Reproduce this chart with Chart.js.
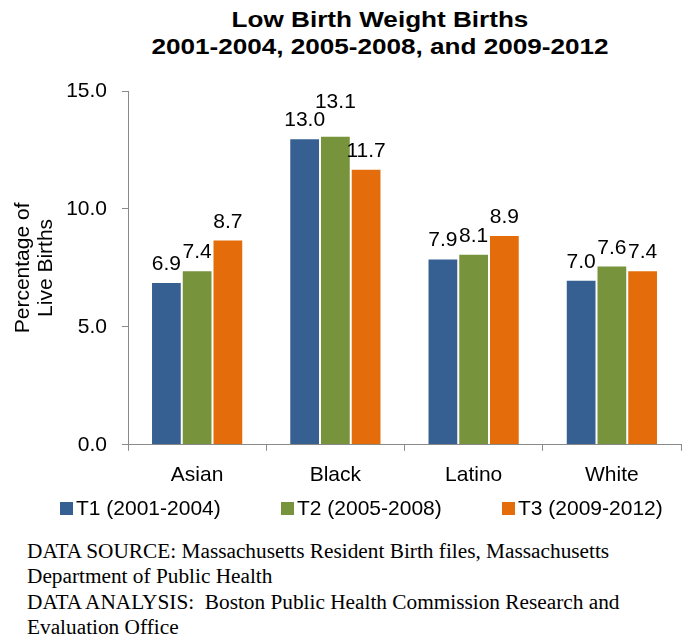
<!DOCTYPE html>
<html>
<head>
<meta charset="utf-8">
<script src="https://cdn.jsdelivr.net/npm/chart.js@4"></script>
<style>
  html, body { margin: 0; padding: 0; background: #fff; }
  body { width: 686px; height: 640px; position: relative; overflow: hidden; font-family: "Liberation Sans", Arial, sans-serif; }
  #title { position: absolute; left: 380px; top: 6px; width: 0; white-space: nowrap; }
  #title div { font-weight: bold; font-size: 22.5px; line-height: 27px; color: #000; transform: translateX(-50%) scaleX(1.16); transform-origin: center; width: max-content; }
  #wrap { position: absolute; left: 0; top: 0; width: 686px; height: 500px; }
  #legend { position: absolute; left: 60px; top: 496px; height: 24px; display: flex; }
  .item { width: 221px; display: flex; align-items: center; font-size: 21px; color: #000; line-height: 24px; }
  .sw { width: 13px; height: 13px; margin-right: 3px; flex: none; }
  #note { position: absolute; left: 27px; top: 539px; font-family: "Liberation Serif", "Times New Roman", serif; font-size: 21.3px; line-height: 25.3px; color: #000; white-space: nowrap; }
</style>
</head>
<body>
<div id="title"><div>Low Birth Weight Births</div><div>2001-2004, 2005-2008, and 2009-2012</div></div>
<div id="wrap"><canvas id="c"></canvas></div>
<div id="legend"></div>
<div id="note">DATA SOURCE: Massachusetts Resident Birth files, Massachusetts<br>Department of Public Health<br>DATA ANALYSIS:&nbsp; Boston Public Health Commission Research and<br>Evaluation Office</div>
<script>
const categories = ['Asian', 'Black', 'Latino', 'White'];
const seriesNames = ['T1 (2001-2004)', 'T2 (2005-2008)', 'T3 (2009-2012)'];
const t1Values = [6.9, 13.0, 7.9, 7.0];
const t2Values = [7.4, 13.1, 8.1, 7.6];
const t3Values = [8.7, 11.7, 8.9, 7.4];
const seriesColors = ['#376092', '#77933C', '#E46C0A'];
const yTicks = [0, 5, 10, 15];

const seriesValues = [t1Values, t2Values, t3Values];

// HTML legend from the series arrays
const legend = document.getElementById('legend');
seriesNames.forEach((name, i) => {
  const it = document.createElement('div');
  it.className = 'item';
  const sw = document.createElement('span');
  sw.className = 'sw';
  sw.style.background = seriesColors[i];
  const tx = document.createElement('span');
  tx.textContent = name;
  it.appendChild(sw); it.appendChild(tx);
  legend.appendChild(it);
});

const FONT = "'Liberation Sans', Arial, sans-serif";
const LABEL_SIZE = 21;

const valueLabels = {
  id: 'valueLabels',
  afterDatasetsDraw(chart) {
    const ctx = chart.ctx;
    ctx.save();
    ctx.font = LABEL_SIZE + 'px ' + FONT;
    ctx.fillStyle = '#000';
    ctx.textAlign = 'center';
    ctx.textBaseline = 'alphabetic';
    const placed = [];
    const n = chart.data.labels.length;
    const h = Math.round(LABEL_SIZE * 0.85);
    for (let j = 0; j < n; j++) {
      chart.data.datasets.forEach((ds, di) => {
        const meta = chart.getDatasetMeta(di);
        const bar = meta.data[j];
        const txt = ds.data[j].toFixed(1);
        const w = ctx.measureText(txt).width;
        let y = bar.y - 12;
        for (let pass = 0; pass < 5; pass++) {
          let moved = false;
          for (const p of placed) {
            const overlapX = Math.abs(p.x - bar.x) < (p.w + w) / 2 + 1;
            const overlapY = Math.abs(p.y - y) < h - 0.5;
            if (overlapX && overlapY) { y = p.y - h; moved = true; }
          }
          if (!moved) break;
        }
        placed.push({ x: bar.x, y, w });
        ctx.fillText(txt, bar.x, y);
      });
    }
    ctx.restore();
  }
};

new Chart(document.getElementById('c'), {
  type: 'bar',
  data: {
    labels: categories,
    datasets: seriesNames.map((name, i) => ({
      label: name,
      data: seriesValues[i],
      backgroundColor: seriesColors[i],
      borderColor: 'rgba(255,255,255,0.45)',
      borderWidth: 1,
      categoryPercentage: 0.667,
      barPercentage: 1.0
    }))
  },
  options: {
    responsive: true,
    maintainAspectRatio: false,
    animation: false,
    layout: { padding: { top: 91, right: 5, bottom: 0, left: 0 } },
    plugins: {
      legend: { display: false },
      title: { display: false },
      tooltip: { enabled: false }
    },
    scales: {
      x: {
        grid: { display: true, offset: true, drawOnChartArea: false, drawTicks: true, tickLength: 6, color: '#8a8a8a' },
        border: { display: true, color: '#8a8a8a', width: 1 },
        ticks: { color: '#000', font: { family: FONT, size: 21 }, padding: 12 }
      },
      y: {
        min: 0, max: 15,
        afterBuildTicks(scale) { scale.ticks = yTicks.map(v => ({ value: v })); },
        afterFit(scale) { scale.width = 128; },
        grid: { display: true, drawOnChartArea: false, drawTicks: true, tickLength: 6, color: '#8a8a8a' },
        border: { display: true, color: '#8a8a8a', width: 1 },
        ticks: { color: '#000', font: { family: FONT, size: 21 }, padding: 15, callback: v => Number(v).toFixed(1) },
        title: {
          display: true,
          text: ['Percentage of', 'Live Births'],
          color: '#000',
          font: { family: FONT, size: 21, lineHeight: 1.08 },
          padding: { top: 12, bottom: 0 }
        }
      }
    }
  },
  plugins: [valueLabels]
});
</script>
</body>
</html>
